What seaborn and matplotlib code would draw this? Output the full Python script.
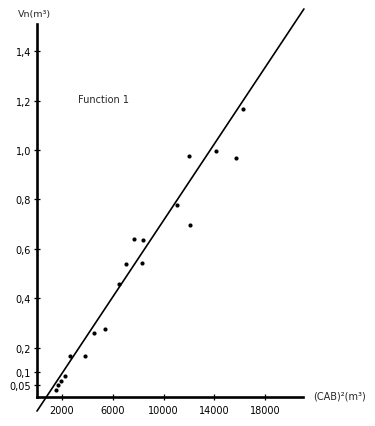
import matplotlib
matplotlib.use("Agg")
import matplotlib.pyplot as plt
import seaborn as sns
import pandas as pd

# Data
cab2 = [1500, 1660, 1950, 2260, 2630, 3810, 4500, 5410, 6460, 7040,
        7670, 8380, 8280, 11080, 12020, 12100, 14100, 15680, 16280]
vn = [0.028, 0.050, 0.065, 0.086, 0.167, 0.167, 0.258, 0.275, 0.459, 0.540,
      0.641, 0.637, 0.541, 0.779, 0.977, 0.696, 0.996, 0.968, 1.166]
fit_x = [30, 21050]
fit_y = [-0.057, 1.571]
y_ticks = [0.05, 0.1, 0.2, 0.4, 0.6, 0.8, 1.0, 1.2, 1.4]
y_tick_labels = ["0,05", "0,1", "0,2", "0,4", "0,6", "0,8", "1,0", "1,2", "1,4"]
x_ticks = [2000, 6000, 10000, 14000, 18000]
x_tick_labels = ["2000", "6000", "10000", "14000", "18000"]

sns.set_style("ticks")
plt.rcParams['font.family'] = ['DejaVu Sans']

df = pd.DataFrame({"cab2": cab2, "vn": vn})
fit = pd.DataFrame({"x": fit_x, "y": fit_y})

W, H = 375, 427
fig = plt.figure(figsize=(W / 100, H / 100), dpi=100)
left = 36.6 / W
bottom = (H - 398) / H
right = 303.3 / W
top = (H - 25) / H
ax = fig.add_axes([left, bottom, right - left, top - bottom])

sns.scatterplot(data=df, x="cab2", y="vn", ax=ax, color="black", s=9,
                edgecolor="black", linewidth=0, zorder=3)
sns.lineplot(data=fit, x="x", y="y", ax=ax, color="black", linewidth=1.2,
             clip_on=False, zorder=2)

ax.set_xlim(0, 21000)
ax.set_ylim(0, 1.51)
for s in ["top", "right"]:
    ax.spines[s].set_visible(False)
for s in ["left", "bottom"]:
    ax.spines[s].set_linewidth(1.9)
    ax.spines[s].set_color("black")

ax.set_xticks(x_ticks)
ax.set_xticklabels(x_tick_labels)
ax.set_yticks(y_ticks)
ax.set_yticklabels(y_tick_labels)
ax.tick_params(axis="both", direction="inout", length=4, width=0.9,
               colors="black", labelsize=7)
ax.tick_params(axis="x", pad=4)
ax.tick_params(axis="y", pad=2)
ax.set_xlabel("")
ax.set_ylabel("")

fig.text(18 / W, 1 - 15 / H, "Vn(m³)", fontsize=6.8, ha="left", va="center")
fig.text(78 / W, 1 - 100 / H, "Function 1", fontsize=7, ha="left", va="center")
fig.text(313 / W, 1 - 397 / H, "(CAB)²(m³)", fontsize=7, ha="left", va="center")

fig.savefig("out.png", dpi=100)
